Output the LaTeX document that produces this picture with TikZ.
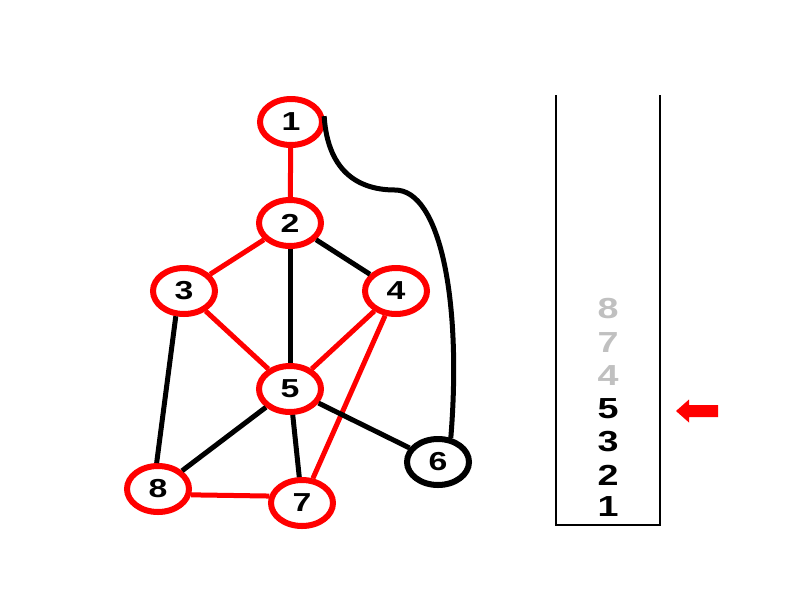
\documentclass[tikz,border=0pt]{standalone}
\usepackage{fontspec}
\usepackage{graphicx}
\setmainfont{Liberation Sans}
\usetikzlibrary{shapes.geometric}
\definecolor{myred}{RGB}{255,0,0}
\definecolor{mygray}{RGB}{192,192,192}
\newcommand\dg[1]{\scalebox{1.3}[1]{#1}}
\tikzset{
  vtx/.style={ellipse, draw=myred, line width=6pt, fill=white, minimum width=62pt, minimum height=46pt, inner sep=0pt, font=\fontsize{26}{26}\selectfont\bfseries},
  vtxb/.style={vtx, draw=black},
  redge/.style={draw=myred, line width=5pt},
  bedge/.style={draw=black, line width=5pt},
  stk/.style={font=\fontsize{29}{29}\selectfont\bfseries, inner sep=0pt},
}
\begin{document}
\begin{tikzpicture}[x=1pt,y=-1pt]
\useasboundingbox (0,0) rectangle (800,600);
% vertices
\node[vtx] (n1) at (291,122) {\dg{1}};
\node[vtx] (n2) at (290,223) {\dg{2}};
\node[vtx] (n3) at (184,291) {\dg{3}};
\node[vtx] (n4) at (396,291) {\dg{4}};
\node[vtx] (n5) at (290,389) {\dg{5}};
\node[vtxb] (n6) at (438,462) {\dg{6}};
\node[vtx] (n7) at (302,503) {\dg{7}};
\node[vtx] (n8) at (158,489) {\dg{8}};
% edges
\draw[redge] (n1) -- (n2);
\draw[redge] (n2) -- (n3);
\draw[bedge] (n2) -- (n4);
\draw[bedge] (n2) -- (n5);
\draw[redge] (n3) -- (n5);
\draw[redge] (n4) -- (n5);
\draw[redge] (n4) -- (n7);
\draw[bedge] (n3.252) -- (n8.93);
\draw[bedge] (n5) -- (n8);
\draw[bedge] (n5) -- (n7);
\draw[bedge] (n5) -- (n6);
\draw[redge] (n8.-10) -- (n7.168);
\draw[bedge] (n1.10) .. controls (328,175) and (362,190) .. (395,190) .. controls (440,190) and (462,300) .. (n6.62);
% stack
\coordinate (sTL) at (556,95);
\coordinate (sTR) at (660,95);
\draw[line width=2.5pt] (sTL) -- (556,525) -- (660,525) -- (sTR);
\node[stk, text=mygray] (s8) at (608,309) {\dg{8}};
\node[stk, text=mygray] (s7) at (608,343) {\dg{7}};
\node[stk, text=mygray] (s4) at (608,376) {\dg{4}};
\node[stk] (s5) at (608,409) {\dg{5}};
\node[stk] (s3) at (608,442) {\dg{3}};
\node[stk] (s2) at (608,475) {\dg{2}};
\node[stk] (s1) at (608,507) {\dg{1}};
% pointer arrow
\fill[myred] (676,411) -- (689,399.5) -- (689,405) -- (718,405) -- (718,417) -- (689,417) -- (689,422.5) -- cycle;
\end{tikzpicture}
\end{document}
